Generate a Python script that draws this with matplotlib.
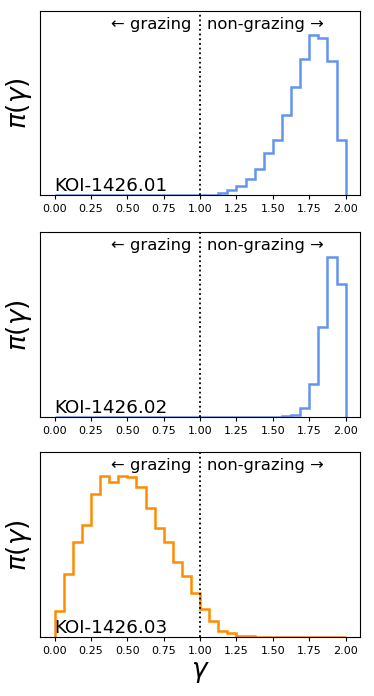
import matplotlib
matplotlib.use('Agg')
import matplotlib.pyplot as plt
import matplotlib.transforms as mtransforms
import numpy as np

# bin edges of the gamma posterior histograms (32 bins over 0..2)
edges = np.linspace(0.0, 2.0, 33)

# posterior heights per bin (arbitrary units)
koi_01 = [0, 0, 0, 0, 0, 0, 0, 0, 0, 0, 0, 0, 0, 0, 0, 0,
          0.3, 1, 5, 15, 28, 48, 77, 125, 165, 240, 322, 407, 478, 468, 402, 165]
koi_02 = [0, 0, 0, 0, 0, 0, 0, 0, 0, 0, 0, 0, 0, 0, 0, 0,
          0, 0, 0, 0, 0, 0, 0, 0, 0.5, 2, 7, 28, 98, 268, 480, 397]
koi_03 = [78, 187, 285, 336, 427, 480, 463, 480, 477, 447, 385, 327, 285, 225, 183, 130,
          83, 47, 18, 10, 3, 1.5, 1, 0.7, 0.5, 0.4, 0.3, 0.2, 0.2, 0.1, 0.1, 0.1]

names = ['KOI-1426.01', 'KOI-1426.02', 'KOI-1426.03']
series = [koi_01, koi_02, koi_03]
colors = ['cornflowerblue', 'cornflowerblue', 'darkorange']

fig = plt.figure(figsize=(3.74, 6.96), dpi=100)

# axes boxes in figure fraction: left, bottom, width, height
boxes = [[0.107, 0.720, 0.856, 0.264],
         [0.107, 0.401, 0.856, 0.265],
         [0.107, 0.085, 0.856, 0.265]]

for i in range(3):
    ax = fig.add_axes(boxes[i])
    trans = mtransforms.blended_transform_factory(ax.transData, ax.transAxes)
    vals = np.array(series[i])
    ax.hist(edges[:-1], bins=edges, weights=vals, histtype='step',
            color=colors[i], lw=1.8)
    ax.set_xlim(-0.1, 2.1)
    ax.set_ylim(0, vals.max() * 1.15)
    ax.axvline(1.0, color='k', ls=(0, (1, 1.6)), lw=1.3)
    ax.set_yticks([])
    ax.set_xticks(np.arange(0, 2.01, 0.25))
    ax.tick_params(axis='x', labelsize=8, length=3)
    ax.set_ylabel(r'$\pi(\gamma)$', fontsize=19, labelpad=4)
    ax.text(0.94, 0.905, '← grazing', ha='right', va='baseline', fontsize=11.8,
            transform=trans)
    ax.text(1.045, 0.905, 'non-grazing →', ha='left', va='baseline', fontsize=11.8,
            transform=trans)
    ax.text(0.0, 0.0, names[i], ha='left', va='bottom', fontsize=13.2,
            transform=trans)
    if i == 2:
        ax.set_xlabel(r'$\gamma$', fontsize=19, labelpad=2)

fig.savefig('out.png', dpi=100)
